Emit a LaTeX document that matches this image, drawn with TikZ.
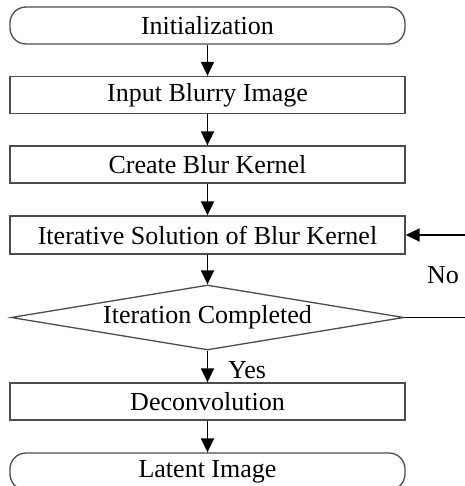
\documentclass[tikz,border=0pt]{standalone}
\usepackage{fontspec}
\setmainfont{Liberation Serif}
\usetikzlibrary{shapes.geometric,arrows.meta}

\tikzset{
  boxline/.style={draw=black!70, line width=1.3pt},
  procbox/.style={boxline, rectangle, minimum width=395pt, minimum height=37pt, inner sep=0pt},
  termbox/.style={boxline, rectangle, rounded corners=16pt, minimum width=395pt, minimum height=37pt, inner sep=0pt},
  decbox/.style={boxline, diamond, minimum width=393pt, minimum height=65pt, inner sep=0pt},
  flow/.style={draw=black, line width=1.8pt, -{Triangle[length=14pt,width=13pt]}},
  lbl/.style={font=\fontsize{26}{30}\selectfont, inner sep=0pt},
}

\begin{document}
\begin{tikzpicture}[x=1pt, y=1pt, font=\fontsize{26}{30}\selectfont]
  \useasboundingbox (0,0) rectangle (464,-486);

  % flowchart steps
  \node[termbox] (init)   at (207.5,-25.5) {Initialization};
  \node[procbox] (input)  at (207.5,-95)   {Input Blurry Image};
  \node[procbox] (kernel) at (207.5,-164.5) {Create Blur Kernel};
  \node[procbox, minimum height=38pt] (iter) at (207.5,-235) {Iterative Solution of Blur Kernel};
  \node[decbox]  (check)  at (207.5,-317.5) {};
  \node[lbl]     (checktext) at (check) {Iteration Completed};
  \node[procbox] (deconv) at (207.5,-401.5) {Deconvolution};
  \node[termbox] (latent) at (207.5,-471.5) {Latent Image};

  % main flow
  \draw[flow] (init)   -- (input);
  \draw[flow] (input)  -- (kernel);
  \draw[flow] (kernel) -- (iter);
  \draw[flow] (iter)   -- (check.north);
  \draw[flow] (check.south) -- (deconv);
  \draw[flow] (deconv) -- (latent);

  % feedback loop when the iteration is not finished
  \coordinate (loopcorner) at (490,-317.5);
  \draw[flow] (check.east) -- (loopcorner) |- (iter.east);

  % branch labels
  \node[lbl, anchor=west] (yes) at (228,-370) {Yes};
  \node[lbl] (no) at (443,-275) {No};
\end{tikzpicture}
\end{document}
